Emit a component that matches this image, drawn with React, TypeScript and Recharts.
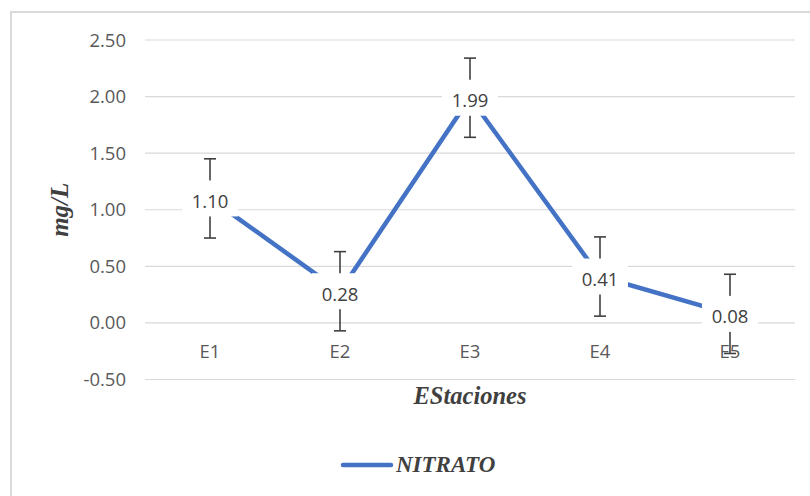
import {
  ComposedChart,
  Line,
  XAxis,
  YAxis,
  CartesianGrid,
  ErrorBar,
  LabelList,
  ReferenceDot,
  Legend,
} from 'recharts';

const stations = ['E1', 'E2', 'E3', 'E4', 'E5'];
const nitrate = [1.1, 0.28, 1.99, 0.41, 0.08];
const nitrateError = [0.35, 0.35, 0.35, 0.35, 0.35];
const yTicks = [-0.5, 0, 0.5, 1, 1.5, 2, 2.5];

const BLUE = '#4472C4';
const TICK_GREY = '#595959';
const DARK_GREY = '#404040';
const SANS = '"Open Sans", sans-serif';
const SERIF = '"Liberation Serif", serif';

const data = stations.map((s, i) => ({
  station: s,
  nitrato: nitrate[i],
  error: nitrateError[i],
}));

// white box behind the value, hides line and error bar like Excel does
function ValueBox(props: any) {
  const { x, y, value } = props;
  if (x == null || y == null) return null;
  return (
    <g>
      <rect x={x - 28} y={y - 18} width={56} height={36} fill="#fff" />
      <text
        x={x}
        y={y + 2}
        textAnchor="middle"
        dominantBaseline="central"
        fontFamily={SANS}
        fontSize={18.5}
        fill={DARK_GREY}
      >
        {Number(value).toFixed(2)}
      </text>
    </g>
  );
}

function StationLabel(props: any) {
  const { viewBox, value } = props;
  if (!viewBox) return null;
  return (
    <text
      x={viewBox.x + viewBox.width / 2}
      y={viewBox.y + 28}
      textAnchor="middle"
      dominantBaseline="central"
      fontFamily={SANS}
      fontSize={18.5}
      fill={TICK_GREY}
    >
      {value}
    </text>
  );
}

function LegendContent() {
  return (
    <div style={{ display: 'flex', alignItems: 'center', height: 26 }}>
      <svg width={54} height={10}>
        <line x1={3} y1={5} x2={51} y2={5} stroke={BLUE} strokeWidth={4.5} strokeLinecap="round" />
      </svg>
      <span
        style={{
          fontFamily: SERIF,
          fontStyle: 'italic',
          fontWeight: 'bold',
          fontSize: 23,
          color: DARK_GREY,
          marginLeft: 2,
          lineHeight: '26px',
        }}
      >
        NITRATO
      </span>
    </div>
  );
}

export default function App() {
  return (
    <div
      style={{
        position: 'absolute',
        left: 0,
        top: 0,
        width: 810,
        height: 496,
        overflow: 'hidden',
        background: '#fff',
      }}
    >
      <div
        style={{
          position: 'absolute',
          left: 10,
          top: 11,
          width: 840,
          height: 520,
          border: '2px solid #d9d9d9',
        }}
      />
      <div style={{ position: 'absolute', left: 0, top: 0 }}>
        <ComposedChart
          width={810}
          height={496}
          data={data}
          margin={{ top: 40, right: 15, bottom: 76.5, left: 45 }}
        >
          <CartesianGrid vertical={false} stroke="#d9d9d9" strokeWidth={1.2} />
          <XAxis
            dataKey="station"
            scale="band"
            height={40}
            axisLine={false}
            tickLine={false}
            tick={false}
            label={{
              value: 'EStaciones',
              position: 'insideTop',
              offset: 7,
              style: {
                fontFamily: SERIF,
                fontStyle: 'italic',
                fontWeight: 'bold',
                fontSize: 24.5,
                fill: DARK_GREY,
              },
            }}
          />
          <YAxis
            width={100}
            domain={[-0.5, 2.5]}
            ticks={yTicks}
            axisLine={false}
            tickLine={false}
            tickSize={0}
            tickMargin={19}
            tickFormatter={(v: number) => v.toFixed(2)}
            tick={{ fontFamily: SANS, fontSize: 18.5, fill: TICK_GREY }}
            label={{
              value: 'mg/L',
              angle: -90,
              position: 'insideLeft',
              offset: 14,
              style: {
                textAnchor: 'middle',
                fontFamily: SERIF,
                fontStyle: 'italic',
                fontWeight: 'bold',
                fontSize: 25,
                fill: DARK_GREY,
              },
            }}
          />
          {stations.map((s) => (
            <ReferenceDot
              key={s}
              x={s}
              y={0}
              r={0}
              fill="none"
              stroke="none"
              label={<StationLabel value={s} />}
            />
          ))}
          <Line
            dataKey="nitrato"
            name="NITRATO"
            stroke={BLUE}
            strokeWidth={4.5}
            dot={false}
            activeDot={false}
            isAnimationActive={false}
          >
            <ErrorBar dataKey="error" width={6} stroke={DARK_GREY} strokeWidth={1.6} direction="y" />
          </Line>
          <Line
            dataKey="nitrato"
            stroke="none"
            dot={false}
            activeDot={false}
            legendType="none"
            isAnimationActive={false}
          >
            <LabelList dataKey="nitrato" content={ValueBox} />
          </Line>
          <Legend
            layout="horizontal"
            verticalAlign="middle"
            align="center"
            content={LegendContent}
            wrapperStyle={{ left: 340, top: 452, width: 220, height: 26 }}
          />
        </ComposedChart>
      </div>
    </div>
  );
}
